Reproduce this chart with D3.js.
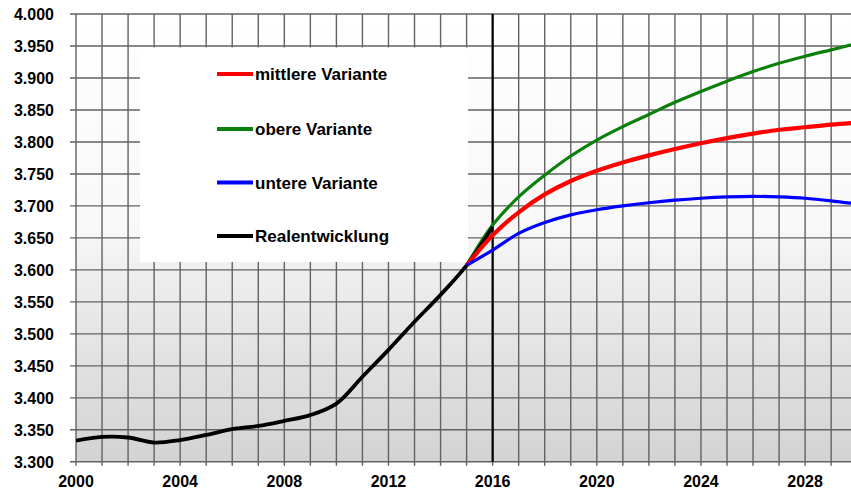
<!DOCTYPE html>
<html>
<head>
<meta charset="utf-8">
<script src="https://cdn.jsdelivr.net/npm/d3@7"></script>
<style>
  html, body { margin: 0; padding: 0; background: #fff; }
  svg { display: block; }
  text { font-family: "Liberation Sans", Arial, sans-serif; font-weight: bold; fill: #000; }
</style>
</head>
<body>
<svg id="chart" width="851" height="491"></svg>
<script>
// ---- data ----
const realYears = [2000,2001,2002,2003,2004,2005,2006,2007,2008,2009,2010,2011,2012,2013,2014,2015,2016];
const realValues = [3.333,3.339,3.338,3.330,3.334,3.342,3.351,3.356,3.364,3.373,3.391,3.433,3.475,3.519,3.561,3.607,3.667];

const forecastYears = [2015,2016,2017,2018,2019,2020,2021,2022,2023,2024,2025,2026,2027,2028,2029,2030];
const obereValues   = [3.607,3.670,3.714,3.748,3.778,3.803,3.824,3.843,3.862,3.879,3.895,3.910,3.923,3.934,3.944,3.954];
const mittlereValues= [3.607,3.654,3.690,3.718,3.739,3.755,3.768,3.779,3.789,3.798,3.806,3.813,3.819,3.823,3.827,3.830];
const untereValues  = [3.607,3.631,3.657,3.674,3.686,3.694,3.700,3.705,3.709,3.712,3.714,3.715,3.714,3.712,3.708,3.703];

const yTicks = [3.30,3.35,3.40,3.45,3.50,3.55,3.60,3.65,3.70,3.75,3.80,3.85,3.90,3.95,4.00];
const xLabelTicks = [2000,2004,2008,2012,2016,2020,2024,2028];
const legendLabels = ["mittlere Variante","obere Variante","untere Variante","Realentwicklung"];
const markerYear = 2016;

// ---- layout ----
const svg = d3.select("#chart");
const x = d3.scaleLinear().domain([2000, 2030]).range([76, 76 + 30 * 26.04]);
const y = d3.scaleLinear().domain([3.3, 4.0]).range([461.8, 14]);

const defs = svg.append("defs");
const grad = defs.append("linearGradient").attr("id", "bg").attr("x1", 0).attr("y1", 0).attr("x2", 0).attr("y2", 1);
[["0%", "#ffffff"], ["48%", "#f8f8f8"], ["58%", "#eeeeee"], ["100%", "#d3d3d3"]].forEach(s =>
  grad.append("stop").attr("offset", s[0]).attr("stop-color", s[1]));
defs.append("clipPath").attr("id", "plotclip").append("rect")
  .attr("x", x(2000)).attr("y", y(4.0) - 3).attr("width", x(2030) - x(2000)).attr("height", y(3.3) - y(4.0) + 6);

svg.append("rect")
  .attr("x", x(2000)).attr("y", y(4.0))
  .attr("width", x(2030) - x(2000)).attr("height", y(3.3) - y(4.0))
  .attr("fill", "url(#bg)");

// grid
const years = d3.range(2000, 2031);
const grid = svg.append("g").attr("stroke", "#626262").attr("stroke-width", 1.4);
grid.selectAll("line.h").data(yTicks).join("line")
  .attr("x1", x(2000) - 6).attr("x2", x(2030))
  .attr("y1", d => y(d)).attr("y2", d => y(d));
grid.selectAll("line.v").data(years).join("line")
  .attr("x1", d => x(d)).attr("x2", d => x(d))
  .attr("y1", y(4.0)).attr("y2", y(3.3) + 4);

// y axis labels
svg.append("g").selectAll("text").data(yTicks).join("text")
  .attr("x", 54).attr("y", d => y(d)).attr("dy", "0.36em")
  .attr("text-anchor", "end").attr("font-size", 16)
  .text(d => d3.format(".3f")(d));

// x axis labels
svg.append("g").selectAll("text").data(xLabelTicks).join("text")
  .attr("x", d => x(d)).attr("y", 487)
  .attr("text-anchor", "middle").attr("font-size", 16)
  .text(d => d);

// legend box (white, covers grid)
svg.append("rect").attr("x", 140).attr("y", 47.5).attr("width", 328).attr("height", 214.5).attr("fill", "#ffffff");

// 2016 marker line
svg.append("line")
  .attr("x1", x(markerYear)).attr("x2", x(markerYear))
  .attr("y1", y(4.0)).attr("y2", y(3.3))
  .attr("stroke", "#000").attr("stroke-width", 2.2);

// series lines
const plot = svg.append("g").attr("clip-path", "url(#plotclip)");
const line = d3.line().x(d => x(d[0])).y(d => y(d[1])).curve(d3.curveCatmullRom.alpha(0.5));
const zip = (a, b) => a.map((v, i) => [v, b[i]]);

plot.append("path").datum(zip(forecastYears, obereValues))
  .attr("d", line).attr("fill", "none").attr("stroke", "#0c800c").attr("stroke-width", 3.2);
plot.append("path").datum(zip(realYears, realValues))
  .attr("d", line).attr("fill", "none").attr("stroke", "#000").attr("stroke-width", 3.8).attr("stroke-linejoin", "round");
plot.append("path").datum(zip(forecastYears, mittlereValues))
  .attr("d", line).attr("fill", "none").attr("stroke", "#ff0000").attr("stroke-width", 4.2);
plot.append("path").datum(zip(forecastYears, untereValues))
  .attr("d", line).attr("fill", "none").attr("stroke", "#0000ff").attr("stroke-width", 3.2);

// legend
const legendColors = ["#ff0000", "#0c800c", "#0000ff", "#000000"];
const legendY = [74, 129, 182.5, 236];
const lg = svg.append("g");
legendLabels.forEach((lab, i) => {
  lg.append("line").attr("x1", 217).attr("x2", 253).attr("y1", legendY[i]).attr("y2", legendY[i])
    .attr("stroke", legendColors[i]).attr("stroke-width", 4);
  lg.append("text").attr("x", 255).attr("y", legendY[i]).attr("dy", "0.36em")
    .attr("font-size", 17).text(lab);
});
</script>
</body>
</html>
